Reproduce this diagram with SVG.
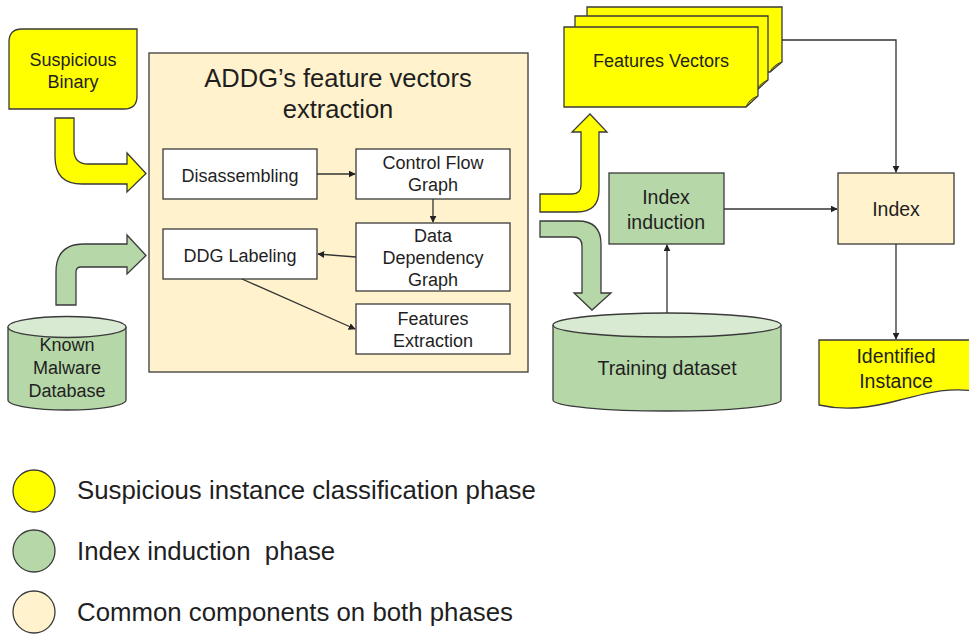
<svg xmlns="http://www.w3.org/2000/svg" width="969" height="635" viewBox="0 0 969 635">
<style>
text{font-family:"Liberation Sans",Arial,sans-serif;fill:#1f1f1f;text-anchor:middle}
.s{stroke:#3a3a3a;stroke-width:1.3}
.y{fill:#ffff00}
.g{fill:#b6d7a8}
.gl{fill:#d9ead3}
.c{fill:#fff2cc}
.w{fill:#ffffff}
.fold{fill:#c9c900;stroke:#3a3a3a;stroke-width:1}
.t18{font-size:18px}
.t20{font-size:19.5px}
.leg{font-size:25.8px;text-anchor:start;white-space:pre}
.ln{fill:none;stroke:#333;stroke-width:1.3}
</style>
<defs>
<marker id="ah" viewBox="0 0 10 10" refX="9" refY="5" markerWidth="7" markerHeight="7" markerUnits="userSpaceOnUse" orient="auto">
<path d="M0,0 L10,5 L0,10 Z" fill="#222"/>
</marker>
</defs>
<rect width="969" height="635" fill="#ffffff"/>

<g id="main-box">
<rect class="c s" x="149" y="53" width="379" height="319"/>
<text x="338" y="87" style="font-size:25.5px">ADDG’s feature vectors</text>
<text x="338" y="118" style="font-size:25.5px">extraction</text>
</g>

<g id="disassembling">
<rect class="w s" x="163" y="149" width="154" height="50"/>
<text class="t18" x="240" y="182">Disassembling</text>
</g>
<g id="cfg">
<rect class="w s" x="356" y="149" width="154" height="50"/>
<text class="t18" x="433" y="169">Control Flow</text>
<text class="t18" x="433" y="191">Graph</text>
</g>
<g id="ddg">
<rect class="w s" x="356" y="223" width="154" height="68"/>
<text class="t18" x="433" y="242">Data</text>
<text class="t18" x="433" y="264">Dependency</text>
<text class="t18" x="433" y="286">Graph</text>
</g>
<g id="ddg-labeling">
<rect class="w s" x="163" y="229" width="154" height="50"/>
<text class="t18" x="240" y="262">DDG Labeling</text>
</g>
<g id="features-extraction">
<rect class="w s" x="356" y="304" width="154" height="50"/>
<text class="t18" x="433" y="325">Features</text>
<text class="t18" x="433" y="347">Extraction</text>
</g>

<g id="suspicious-binary">
<path class="y s" d="M22,29 H137 V96 Q137,109 124,109 H9 V42 Q9,29 22,29 Z"/>
<text class="t18" x="73" y="66">Suspicious</text>
<text class="t18" x="73" y="88">Binary</text>
</g>

<g id="known-malware-db">
<path class="g s" d="M8,327 V400 A59,10 0 0 0 126,400 V327"/>
<ellipse class="gl s" cx="67" cy="327" rx="59" ry="10.5"/>
<text class="t18" x="67" y="351">Known</text>
<text class="t18" x="67" y="374">Malware</text>
<text class="t18" x="67" y="397">Database</text>
</g>

<g id="features-vectors">
<path class="y s" d="M587,7 H782 V62 L770,72 H587 Z"/>
<path class="fold" d="M770,72 Q773,65 782,62 Q775,67 770,72 Z"/>
<path class="y s" d="M575,16 H768 V80 L757,90 H575 Z"/>
<path class="fold" d="M757,90 Q760,83 768,80 Q762,85 757,90 Z"/>
<path class="y s" d="M564,27 H758 V96 L746,107 H564 Z"/>
<path class="fold" d="M746,107 Q749,99 758,96 Q751,102 746,107 Z"/>
<text x="661" y="67" style="font-size:18px">Features Vectors</text>
</g>

<g id="index-induction">
<rect class="g s" x="609" y="173" width="115" height="71"/>
<text class="t20" x="666" y="204">Index</text>
<text class="t20" x="666" y="229">induction</text>
</g>

<g id="index">
<rect class="c s" x="838" y="173" width="116" height="71"/>
<text class="t20" x="896" y="216">Index</text>
</g>

<g id="training-dataset">
<path class="g s" d="M553,325 V400 A114,11 0 0 0 781,400 V325"/>
<ellipse class="gl s" cx="667" cy="325" rx="114" ry="12"/>
<text class="t20" x="667" y="375">Training dataset</text>
</g>

<g id="identified-instance">
<path class="y s" d="M819,340 H975 V391 C945,387 925,394 900,400 C870,408 845,411 819,405 Z"/>
<text class="t20" x="896" y="363">Identified</text>
<text class="t20" x="896" y="388">Instance</text>
</g>

<g id="block-arrows">
<path class="y s" d="M55,118 H74 V150 Q74,164 88,164 H127 V153 L146,173.5 L127,192 V184 H82 Q55,184 55,157 Z"/>
<path class="g s" d="M56,305 H76 V272 Q76,267 81,267 H127 V274 L146,255.5 L127,235 V244 H84 Q56,244 56,272 Z"/>
<path class="y s" d="M540,194 H572 Q581,194 581,185 V132 H572 L590,114 L607,132 H599 V190 Q599,212 577,212 H540 Z"/>
<path class="g s" d="M540,221 H578 Q601,221 601,244 V293 H611 L592,310 L574,293 H582 V246 Q582,237 573,237 H540 Z"/>
</g>

<g id="connectors">
<path class="ln" d="M317,174 H355" marker-end="url(#ah)"/>
<path class="ln" d="M433,199 V222" marker-end="url(#ah)"/>
<path class="ln" d="M356,257 L318,254" marker-end="url(#ah)"/>
<path class="ln" d="M242,279 L355,329" marker-end="url(#ah)"/>
<path class="ln" d="M782,40 H896 V172" marker-end="url(#ah)"/>
<path class="ln" d="M724,209 H837" marker-end="url(#ah)"/>
<path class="ln" d="M667,313 V245" marker-end="url(#ah)"/>
<path class="ln" d="M896,244 V339" marker-end="url(#ah)"/>
</g>

<g id="legend">
<circle class="y s" cx="34" cy="491" r="21"/>
<circle class="g s" cx="34" cy="551" r="21"/>
<circle class="c s" cx="34" cy="612" r="21"/>
<text class="leg" x="77" y="499">Suspicious instance classification phase</text>
<text class="leg" x="77" y="560">Index induction  phase</text>
<text class="leg" x="77" y="621">Common components on both phases</text>
</g>
</svg>
